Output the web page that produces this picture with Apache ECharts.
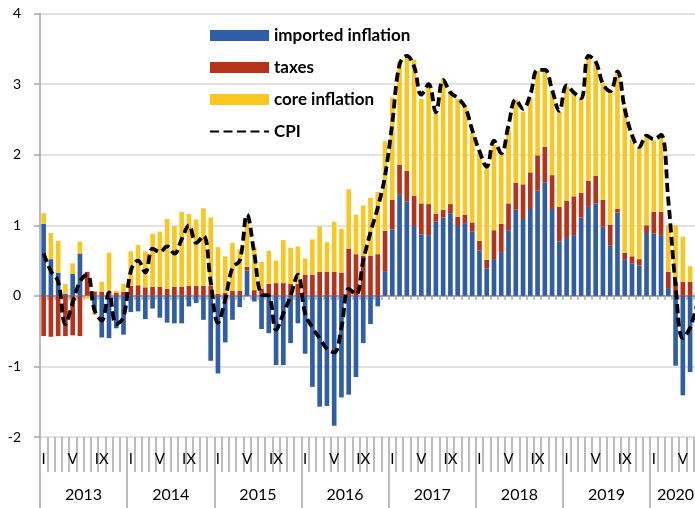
<!DOCTYPE html>
<html lang="en">
<head>
<meta charset="UTF-8">
<title>CPI decomposition</title>
<script src="https://cdn.jsdelivr.net/npm/echarts@6/dist/echarts.min.js"></script>
<style>
  html, body { margin: 0; padding: 0; background: #fff; }
  #chart { width: 695px; height: 508px; }
</style>
</head>
<body>
<div id="chart"></div>
<script>
// months Jan 2013 - Jul 2020 (last bar is cut by the picture's right edge)
var years = [2013, 2014, 2015, 2016, 2017, 2018, 2019, 2020];
var monthMarks = ['I', '', '', '', 'V', '', '', '', 'IX', '', '', ''];
var monthsIn2020 = 7;

var imported = [
  1.02, 0.52, 0.33, 0.03, 0.31, 0.60, 0.00, -0.20, -0.59, -0.60, -0.46, -0.55,
  -0.23, -0.22, -0.33, -0.18, -0.31, -0.38, -0.39, -0.39, -0.15, -0.10, -0.34, -0.92,
  -1.10, -0.66, -0.34, -0.16, 0.36, -0.08, -0.47, -0.53, -0.98, -0.98, -0.67, -0.39,
  -0.82, -1.29, -1.57, -1.56, -1.84, -1.44, -1.40, -1.15, -0.67, -0.40, -0.15, 0.35,
  0.94, 1.44, 1.34, 0.99, 0.87, 0.86, 1.05, 1.11, 1.17, 0.99, 1.03, 0.91,
  0.64, 0.39, 0.52, 0.62, 0.93, 1.22, 1.09, 1.23, 1.49, 1.61, 1.23, 0.77,
  0.82, 0.86, 1.11, 1.26, 1.31, 0.98, 0.71, 1.18, 0.52, 0.46, 0.43, 0.89,
  0.88, 0.86, 0.11, -0.99, -1.41, -1.08, -0.25
];
var taxes = [
  -0.57, -0.58, -0.57, -0.57, -0.56, -0.57, 0.34, 0.06, 0.06, 0.06, 0.04, 0.06,
  0.14, 0.15, 0.12, 0.13, 0.13, 0.10, 0.13, 0.13, 0.14, 0.14, 0.14, 0.14,
  0.03, 0.04, 0.07, 0.07, 0.05, 0.08, 0.10, 0.17, 0.18, 0.18, 0.17, 0.17,
  0.30, 0.30, 0.34, 0.34, 0.34, 0.33, 0.67, 0.59, 0.57, 0.57, 0.59, 0.57,
  0.42, 0.42, 0.43, 0.43, 0.44, 0.44, 0.11, 0.11, 0.13, 0.13, 0.12, 0.13,
  0.14, 0.12, 0.41, 0.40, 0.38, 0.38, 0.49, 0.52, 0.50, 0.50, 0.48, 0.49,
  0.53, 0.55, 0.35, 0.37, 0.39, 0.38, 0.30, 0.05, 0.09, 0.10, 0.09, 0.11,
  0.31, 0.33, 0.23, 0.20, 0.20, 0.20, 0.20
];
var core = [
  0.15, 0.37, 0.45, 0.14, 0.15, 0.17, -0.04, -0.07, 0.14, 0.55, 0.03, 0.11,
  0.49, 0.57, 0.51, 0.75, 0.78, 0.99, 0.86, 1.06, 1.02, 0.94, 1.10, 0.97,
  0.66, 0.52, 0.68, 0.59, 0.68, 0.61, 0.38, 0.47, 0.32, 0.61, 0.51, 0.53,
  0.23, 0.50, 0.64, 0.42, 0.71, 0.62, 0.84, 0.56, 0.71, 0.82, 0.88, 1.27,
  1.45, 1.46, 1.61, 1.93, 1.48, 1.69, 1.43, 1.86, 1.60, 1.67, 1.55, 1.26,
  1.29, 1.32, 1.21, 0.98, 1.09, 1.18, 1.03, 1.05, 1.20, 1.08, 1.19, 1.34,
  1.62, 1.49, 1.36, 1.77, 1.63, 1.65, 1.91, 1.95, 2.07, 1.73, 1.59, 1.28,
  1.01, 1.10, 0.66, 0.80, 0.64, 0.22, 0.80
];
var cpi = [
  0.60, 0.35, 0.20, -0.40, -0.10, 0.20, 0.30, -0.20, -0.35, 0.05, -0.40, -0.30,
  0.35, 0.50, 0.33, 0.67, 0.62, 0.70, 0.60, 0.80, 1.00, 0.75, 0.85, 0.20,
  -0.38, -0.05, 0.40, 0.50, 1.15, 0.60, 0.02, 0.00, -0.48, -0.25, 0.00, 0.30,
  -0.25, -0.45, -0.60, -0.75, -0.80, -0.45, 0.10, 0.02, 0.50, 0.90, 1.25, 1.70,
  2.45, 3.28, 3.40, 3.25, 2.85, 3.00, 2.60, 3.06, 2.88, 2.80, 2.68, 2.35,
  2.05, 1.83, 2.20, 2.02, 2.42, 2.78, 2.65, 2.85, 3.20, 3.20, 2.92, 2.62,
  2.98, 2.88, 2.80, 3.40, 3.32, 3.00, 2.90, 3.18, 2.65, 2.28, 2.11, 2.27,
  2.22, 2.28, 1.35, 0.15, -0.60, -0.45, -0.10
];

// category list and year axis positions
var categories = [];
var yearTicks = [];
var yearMids = [];
var pos = 0;
for (var y = 0; y < years.length; y++) {
  var n = (y === years.length - 1) ? monthsIn2020 : 12;
  yearTicks.push(pos);
  yearMids.push(pos + n / 2);
  for (var m = 0; m < n; m++) {
    categories.push(years[y] + '-' + (m + 1));
  }
  pos += n;
}
yearTicks.push(pos);

var grey = '#a6a6a6';
var font = 'Lato, "Open Sans", sans-serif';

var chart = echarts.init(document.getElementById('chart'));

var option = {
  animation: false,
  textStyle: { fontFamily: font },
  grid: { left: 40, right: -6, top: 13.5, bottom: 71, containLabel: false, outerBoundsMode: 'none' },
  legend: {
    orient: 'vertical',
    left: 209,
    top: 27,
    padding: 0,
    itemWidth: 59,
    itemHeight: 11,
    itemGap: 15,
    textStyle: { fontSize: 17, fontWeight: 'bold', color: '#000', fontFamily: font },
    data: [
      { name: 'imported inflation', icon: 'rect' },
      { name: 'taxes', icon: 'rect' },
      { name: 'core inflation', icon: 'rect' },
      { name: 'CPI', itemStyle: { opacity: 0 } }
    ]
  },
  xAxis: [
    {
      // month ticks and I / V / IX labels
      type: 'category',
      data: categories,
      position: 'bottom',
      axisLine: { show: false, onZero: false },
      axisTick: { show: true, interval: 0, length: 35, lineStyle: { color: grey, width: 1.5 } },
      axisLabel: {
        interval: 0, margin: 15, fontSize: 15, color: '#000', fontFamily: font,
        formatter: function (v, i) { return monthMarks[i % 12]; }
      },
      splitLine: { show: false }
    },
    {
      // year separators and labels
      type: 'value',
      min: 0,
      max: pos,
      position: 'bottom',
      axisLine: { show: false, onZero: false },
      axisTick: { show: true, customValues: yearTicks, length: 71, lineStyle: { color: grey, width: 1.5 } },
      axisLabel: {
        customValues: yearMids, margin: 50, fontSize: 16, color: '#000', fontFamily: font,
        formatter: function (v) { return String(years[Math.floor(v / 12)]); }
      },
      splitLine: { show: false }
    },
    {
      // zero line with small ticks
      type: 'category',
      data: categories,
      position: 'bottom',
      axisLine: { show: true, onZero: true, lineStyle: { color: grey, width: 2 } },
      axisTick: { show: true, interval: 0, length: 4, lineStyle: { color: grey, width: 1.5 } },
      axisLabel: { show: false },
      splitLine: { show: false }
    }
  ],
  yAxis: {
    type: 'value',
    min: -2,
    max: 4,
    interval: 1,
    axisLine: { show: true, onZero: false, lineStyle: { color: grey, width: 1.5 } },
    axisTick: { show: true, length: 6, lineStyle: { color: grey, width: 1.5 } },
    axisLabel: { margin: 19, fontSize: 14, color: '#000', fontFamily: font },
    splitLine: { show: true, lineStyle: { color: '#d9d9d9', width: 1.5 } }
  },
  series: [
    {
      name: 'imported inflation', type: 'bar', stack: 'cpi', barWidth: '64%',
      itemStyle: { color: '#2f5da6' }, data: imported
    },
    {
      name: 'taxes', type: 'bar', stack: 'cpi', barWidth: '64%',
      itemStyle: { color: '#b83119' }, data: taxes
    },
    {
      name: 'core inflation', type: 'bar', stack: 'cpi', barWidth: '64%',
      itemStyle: { color: '#f9c71f' }, data: core
    },
    {
      name: 'CPI', type: 'line', smooth: 0.4, symbol: 'none', z: 5,
      lineStyle: { color: '#000', width: 3.8, type: [9, 4.5] },
      itemStyle: { color: '#000' },
      data: cpi
    }
  ]
};

chart.setOption(option);
</script>
</body>
</html>
